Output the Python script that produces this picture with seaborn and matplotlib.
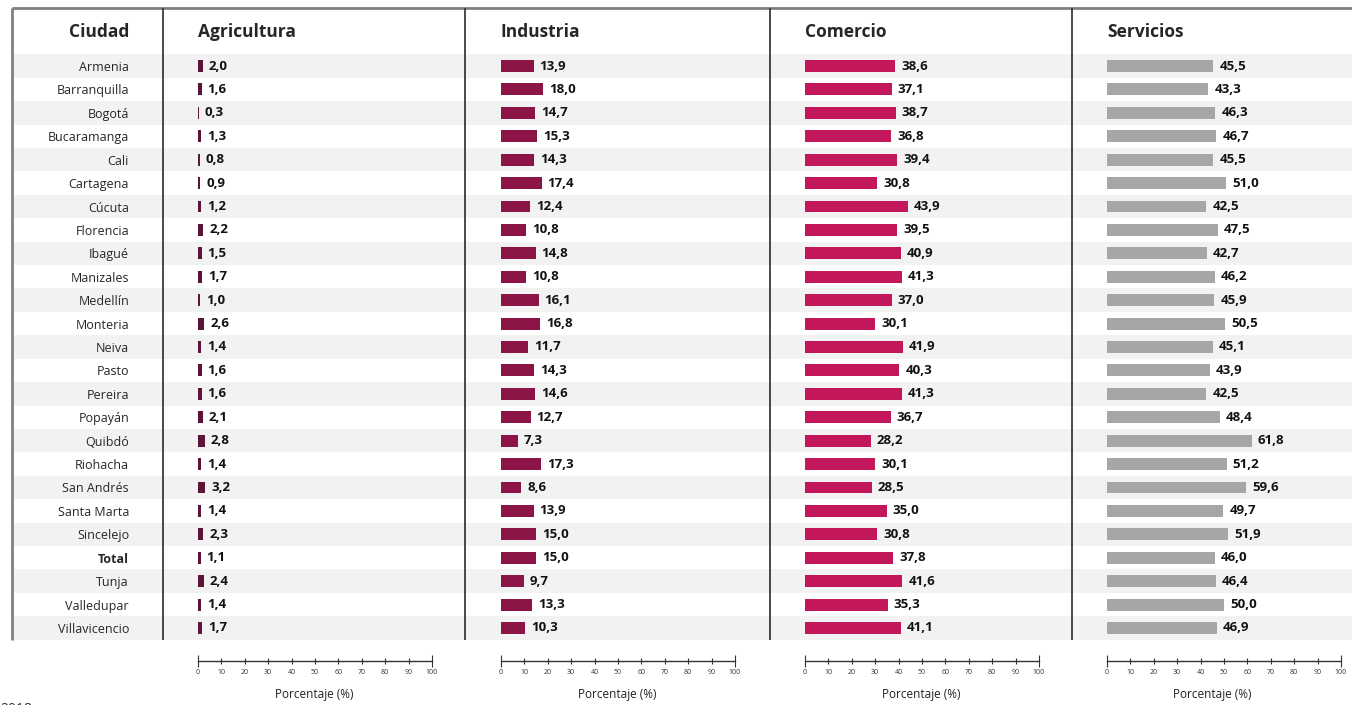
import matplotlib
matplotlib.use("Agg")
import matplotlib.pyplot as plt
import seaborn as sns
import pandas as pd

sns.set_theme(style="white")
plt.rcParams['font.family'] = ['Open Sans', 'DejaVu Sans']

cities = ["Armenia", "Barranquilla", "Bogotá", "Bucaramanga", "Cali", "Cartagena",
          "Cúcuta", "Florencia", "Ibagué", "Manizales", "Medellín", "Monteria",
          "Neiva", "Pasto", "Pereira", "Popayán", "Quibdó", "Riohacha", "San Andrés",
          "Santa Marta", "Sincelejo", "Total", "Tunja", "Valledupar", "Villavicencio"]
agricultura = [2.0, 1.6, 0.3, 1.3, 0.8, 0.9, 1.2, 2.2, 1.5, 1.7, 1.0, 2.6, 1.4, 1.6,
               1.6, 2.1, 2.8, 1.4, 3.2, 1.4, 2.3, 1.1, 2.4, 1.4, 1.7]
industria = [13.9, 18.0, 14.7, 15.3, 14.3, 17.4, 12.4, 10.8, 14.8, 10.8, 16.1, 16.8,
             11.7, 14.3, 14.6, 12.7, 7.3, 17.3, 8.6, 13.9, 15.0, 15.0, 9.7, 13.3, 10.3]
comercio = [38.6, 37.1, 38.7, 36.8, 39.4, 30.8, 43.9, 39.5, 40.9, 41.3, 37.0, 30.1,
            41.9, 40.3, 41.3, 36.7, 28.2, 30.1, 28.5, 35.0, 30.8, 37.8, 41.6, 35.3, 41.1]
servicios = [45.5, 43.3, 46.3, 46.7, 45.5, 51.0, 42.5, 47.5, 42.7, 46.2, 45.9, 50.5,
             45.1, 43.9, 42.5, 48.4, 61.8, 51.2, 59.6, 49.7, 51.9, 46.0, 46.4, 50.0, 46.9]
sectors = ["Agricultura", "Industria", "Comercio", "Servicios"]
colors = ["#5c1538", "#8c1446", "#c2185b", "#a6a6a6"]
ticks = list(range(0, 101, 10))

W, H = 1352, 705
fig = plt.figure(figsize=(W / 100, H / 100), dpi=100)
fig.patch.set_facecolor("white")


def px_axes(x0, y0, x1, y1, **kw):
    return fig.add_axes([x0 / W, 1 - y1 / H, (x1 - x0) / W, (y1 - y0) / H], **kw)


ROW_TOP, ROW_BOT = 54.3, 639.7
n = len(cities)

# background stripes
bg = px_axes(12, ROW_TOP, 1352, ROW_BOT)
bg.set_xlim(0, 1)
bg.set_ylim(n - 0.5, -0.5)
for i in range(0, n, 2):
    bg.axhspan(i - 0.5, i + 0.5, color="#f2f2f2", lw=0)
bg.axis("off")

# frame lines and headers
frame = fig.add_axes([0, 0, 1, 1], zorder=5)
frame.set_xlim(0, W)
frame.set_ylim(H, 0)
frame.axis("off")
frame.patch.set_alpha(0)
frame.plot([12, 1352], [8, 8], color="#808080", lw=2, solid_capstyle="butt")
frame.plot([12, 12], [8, 640], color="#808080", lw=2, solid_capstyle="butt")
seps = [163, 465, 770, 1072, 1352]
for x in seps[:-1]:
    frame.plot([x, x], [8, 640], color="#3a3a3a", lw=1.3, solid_capstyle="butt")
frame.text(129, 32, "Ciudad", ha="right", va="center", fontsize=12.5, fontweight="bold")
zeros = [198, 501, 805, 1107]
for z, s in zip(zeros, sectors):
    frame.text(z, 32, s, ha="left", va="center", fontsize=12.5, fontweight="bold")
frame.text(0, 702, "2018", ha="left", va="top", fontsize=10, color="#333333")

SCALE = 2.34  # px per percent unit
values = [agricultura, industria, comercio, servicios]
for k in range(4):
    left, right = seps[k], seps[k + 1]
    z = zeros[k]
    ax = px_axes(left, ROW_TOP, right, ROW_BOT, zorder=3)
    ax.patch.set_alpha(0)
    df = pd.DataFrame({"city": cities, "val": values[k]})
    sns.barplot(data=df, x="val", y="city", orient="h", color=colors[k],
                saturation=1, width=0.51, linewidth=0, ax=ax)
    ax.set_xlim((left - z) / SCALE, (right - z) / SCALE)
    ax.set_ylim(n - 0.5, -0.5)
    for i, v in enumerate(values[k]):
        ax.annotate(f"{v:.1f}".replace(".", ","), (v, i), xytext=(4.3, 0),
                    textcoords="offset points", va="center", ha="left",
                    fontsize=9.5, fontweight="bold", color="#111111")
    for sp in ["top", "right", "left"]:
        ax.spines[sp].set_visible(False)
    ax.spines["bottom"].set_position(("outward", 15.5))
    ax.spines["bottom"].set_bounds(0, 100)
    ax.spines["bottom"].set_color("#333333")
    ax.spines["bottom"].set_linewidth(1)
    ax.set_xticks(ticks)
    ax.set_xticklabels([str(t) for t in ticks])
    ax.tick_params(axis="x", direction="inout", length=5, width=0.8, colors="#333333",
                   labelsize=5, pad=3, bottom=True)
    xt = ax.xaxis.get_major_ticks()
    xt[0].tick1line.set_markersize(9)
    xt[-1].tick1line.set_markersize(9)
    ax.set_xlabel("Porcentaje (%)", fontsize=8.5, labelpad=9, color="#222222")
    ax.set_ylabel("")
    if k == 0:
        ax.tick_params(axis="y", length=0, labelsize=9, pad=(left - 129) * 0.72)
        for lab in ax.get_yticklabels():
            if lab.get_text() == "Total":
                lab.set_fontweight("bold")
    else:
        ax.set_yticks([])

fig.savefig("out.png", dpi=100, facecolor="white")
